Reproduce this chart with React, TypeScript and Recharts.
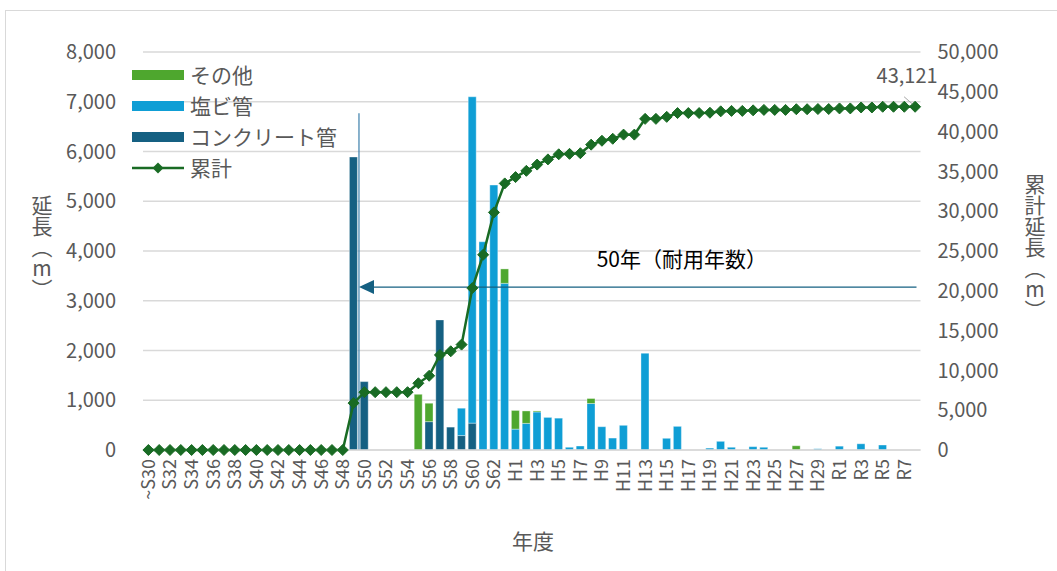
import React from 'react';
import {
  ComposedChart,
  Bar,
  Line,
  XAxis,
  YAxis,
  CartesianGrid,
  Legend,
  ReferenceLine,
  LabelList,
} from 'recharts';

const FONT = '"Noto Sans CJK JP", "Noto Sans", sans-serif';
const GREY = '#595959';

// 年度 (72 categories)
const categories = [
  '~S30', 'S31', 'S32', 'S33', 'S34', 'S35', 'S36', 'S37', 'S38', 'S39',
  'S40', 'S41', 'S42', 'S43', 'S44', 'S45', 'S46', 'S47', 'S48', 'S49',
  'S50', 'S51', 'S52', 'S53', 'S54', 'S55', 'S56', 'S57', 'S58', 'S59',
  'S60', 'S61', 'S62', 'S63',
  'H1', 'H2', 'H3', 'H4', 'H5', 'H6', 'H7', 'H8', 'H9', 'H10',
  'H11', 'H12', 'H13', 'H14', 'H15', 'H16', 'H17', 'H18', 'H19', 'H20',
  'H21', 'H22', 'H23', 'H24', 'H25', 'H26', 'H27', 'H28', 'H29', 'H30',
  'R1', 'R2', 'R3', 'R4', 'R5', 'R6', 'R7', 'R8',
];

// コンクリート管
const concrete = [
  0, 0, 0, 0, 0, 0, 0, 0, 0, 0,
  0, 0, 0, 0, 0, 0, 0, 0, 0, 5890,
  1375, 0, 0, 0, 0, 0, 570, 2615, 460, 290,
  540, 0, 0, 0,
  0, 0, 0, 0, 0, 0, 0, 0, 0, 0,
  0, 0, 0, 0, 0, 0, 0, 0, 0, 0,
  0, 0, 0, 0, 0, 0, 0, 0, 0, 0,
  0, 0, 0, 0, 0, 0, 0, 0,
];

// 塩ビ管
const pvc = [
  0, 0, 0, 0, 0, 0, 0, 0, 0, 0,
  0, 0, 0, 0, 0, 0, 0, 0, 0, 0,
  0, 0, 0, 0, 0, 0, 0, 0, 0, 550,
  6560, 4185, 5325, 3350,
  420, 535, 765, 655, 640, 55, 80, 935, 468, 240,
  496, 0, 1945, 0, 235, 475, 0, 0, 38, 174,
  55, 0, 67, 55, 0, 0, 0, 0, 25, 0,
  77, 0, 125, 0, 100, 0, 0, 0,
];

// その他
const other = [
  0, 0, 0, 0, 0, 0, 0, 0, 0, 0,
  0, 0, 0, 0, 0, 0, 0, 0, 0, 0,
  0, 0, 0, 0, 0, 1120, 370, 0, 0, 0,
  0, 0, 0, 290,
  375, 250, 20, 0, 0, 0, 0, 100, 0, 0,
  0, 0, 0, 0, 0, 0, 0, 0, 0, 0,
  0, 0, 0, 0, 0, 0, 85, 0, 0, 0,
  0, 0, 0, 0, 0, 0, 0, 0,
];

// 累計
const cumulative = [
  0, 0, 0, 0, 0, 0, 0, 0, 0, 0,
  0, 0, 0, 0, 0, 0, 0, 0, 0, 5890,
  7265, 7265, 7265, 7265, 7265, 8385, 9325, 11940, 12400, 13240,
  20340, 24525, 29850, 33490,
  34285, 35070, 35855, 36510, 37150, 37205, 37285, 38360, 38850, 39100,
  39620, 39620, 41600, 41600, 41850, 42330, 42330, 42330, 42370, 42545,
  42600, 42600, 42670, 42725, 42725, 42725, 42810, 42810, 42835, 42835,
  42910, 42910, 43030, 43030, 43121, 43121, 43121, 43121,
];

const leftTicks = [0, 1000, 2000, 3000, 4000, 5000, 6000, 7000, 8000];
const rightTicks = [0, 5000, 10000, 15000, 20000, 25000, 30000, 35000, 40000, 45000, 50000];

const NAMES = {
  other: 'その他',
  pvc: '塩ビ管',
  concrete: 'コンクリート管',
  cumulative: '累計',
};
const COLORS = {
  other: '#4EA72E',
  pvc: '#0F9ED5',
  concrete: '#156082',
  cumulative: '#196B24',
};

const lifeText = '50年（耐用年数）';
const lifeLineTop = 6770;
const lifeArrowY = 3275;
const lifeStart = 'S49';
const lifeEnd = 'R8';

const data = categories.map((year, i) => ({
  year,
  concrete: concrete[i],
  pvc: pvc[i],
  other: other[i],
  cumulative: cumulative[i],
}));

const fmt = (v: number) => Number(v).toLocaleString('en-US');

const Diamond = (props: any) => {
  const { cx, cy, index } = props;
  if (cx == null || cy == null) return <g key={`d-${index}`} />;
  const r = 5.5;
  return (
    <polygon
      key={`d-${index}`}
      points={`${cx},${cy - r} ${cx + r},${cy} ${cx},${cy + r} ${cx - r},${cy}`}
      fill={COLORS.cumulative}
      stroke={COLORS.cumulative}
      strokeWidth={1}
    />
  );
};

const XTick = (props: any) => {
  const { x, y, payload } = props;
  return (
    <g transform={`translate(${x},${y})`}>
      <text
        transform="rotate(-90)"
        textAnchor="end"
        dy="0.36em"
        fill={GREY}
        fontSize={18}
        fontFamily={FONT}
      >
        {payload.value}
      </text>
    </g>
  );
};

const LastLabel = (props: any) => {
  const { x, y, index, value } = props;
  if (index !== cumulative.length - 1) return null;
  return (
    <g>
      <line x1={x - 11} y1={y - 10} x2={x - 3} y2={y - 3} stroke="#a6a6a6" strokeWidth={1} />
      <text
        x={x - 8}
        y={y - 32}
        textAnchor="middle"
        dominantBaseline="central"
        fill={GREY}
        fontSize={20}
        fontFamily={FONT}
      >
        {fmt(value)}
      </text>
    </g>
  );
};

const ArrowShape = (props: any) => {
  const { x1, y1, x2, y2 } = props;
  const left = Math.min(x1, x2);
  const right = Math.max(x1, x2);
  const y = y1;
  return (
    <g>
      <line x1={left + 14} y1={y} x2={right - 4} y2={y2} stroke={COLORS.concrete} strokeWidth={1.3} />
      <polygon
        points={`${left},${y} ${left + 15},${y - 7} ${left + 15},${y + 7}`}
        fill={COLORS.concrete}
      />
      <text
        x={left + (right - left) * 0.575}
        y={y - 29}
        textAnchor="middle"
        dominantBaseline="central"
        fill="#000000"
        fontSize={21}
        fontFamily={FONT}
      >
        {lifeText}
      </text>
    </g>
  );
};

const legendOrder: Array<keyof typeof NAMES> = ['other', 'pvc', 'concrete', 'cumulative'];

const LegendContent = () => (
  <div style={{ fontFamily: FONT }}>
    {legendOrder.map((k) => (
      <div key={k} style={{ display: 'flex', alignItems: 'center', height: 31 }}>
        <svg width={53} height={14} style={{ display: 'block' }}>
          {k === 'cumulative' ? (
            <g>
              <line x1={0} y1={7} x2={52} y2={7} stroke={COLORS.cumulative} strokeWidth={2.5} />
              <polygon points="26,1.5 31.5,7 26,12.5 20.5,7" fill={COLORS.cumulative} />
            </g>
          ) : (
            <rect x={0} y={2} width={52} height={10} fill={COLORS[k]} />
          )}
        </svg>
        <span style={{ marginLeft: 5, fontSize: 21, color: GREY, lineHeight: '31px', whiteSpace: 'nowrap' }}>
          {NAMES[k]}
        </span>
      </div>
    ))}
  </div>
);

export default function App() {
  return (
    <div>
      <div
        style={{
          position: 'absolute',
          left: 5,
          top: 10,
          width: 1080,
          height: 600,
          border: '1px solid #d9d9d9',
          boxSizing: 'border-box',
          background: '#ffffff',
        }}
      />
      <div style={{ position: 'absolute', left: 5, top: 10 }}>
        <ComposedChart
          width={1052}
          height={561}
          data={data}
          margin={{ top: 42, right: 0, bottom: 31, left: 0 }}
          barCategoryGap="11.5%"
          style={{ fontFamily: FONT }}
        >
          <CartesianGrid yAxisId="left" vertical={false} stroke="#d9d9d9" strokeWidth={1.3} />
          <XAxis
            dataKey="year"
            interval={1}
            tickLine={false}
            tickSize={0}
            tickMargin={9}
            axisLine={{ stroke: '#d9d9d9', strokeWidth: 1.3 }}
            height={90}
            tick={<XTick />}
          />
          <YAxis
            yAxisId="left"
            domain={[0, 8000]}
            ticks={leftTicks}
            width={138}
            tickLine={false}
            axisLine={false}
            tickSize={0}
            tickMargin={27}
            tickFormatter={fmt}
            tick={{ fill: GREY, fontSize: 20, fontFamily: FONT }}
          />
          <YAxis
            yAxisId="right"
            orientation="right"
            domain={[0, 50000]}
            ticks={rightTicks}
            width={136.5}
            tickLine={false}
            axisLine={false}
            tickSize={0}
            tickMargin={17}
            tickFormatter={fmt}
            tick={{ fill: GREY, fontSize: 20, fontFamily: FONT, textAnchor: 'start' }}
          />
          <Legend
            layout="vertical"
            align="center"
            verticalAlign="middle"
            wrapperStyle={{ left: 127, top: 49, width: 260, height: 124 }}
            content={<LegendContent />}
          />
          <Bar
            yAxisId="left"
            dataKey="concrete"
            name={NAMES.concrete}
            stackId="a"
            fill={COLORS.concrete}
            stroke="rgba(255,255,255,0.45)"
            strokeWidth={0.8}
            isAnimationActive={false}
          />
          <Bar
            yAxisId="left"
            dataKey="pvc"
            name={NAMES.pvc}
            stackId="a"
            fill={COLORS.pvc}
            stroke="rgba(255,255,255,0.45)"
            strokeWidth={0.8}
            isAnimationActive={false}
          />
          <Bar
            yAxisId="left"
            dataKey="other"
            name={NAMES.other}
            stackId="a"
            fill={COLORS.other}
            stroke="rgba(255,255,255,0.45)"
            strokeWidth={0.8}
            isAnimationActive={false}
          />
          <ReferenceLine
            yAxisId="left"
            segment={[
              { x: lifeStart, y: lifeLineTop },
              { x: lifeStart, y: 0 },
            ]}
            position="end"
            stroke="#3b7fab"
            strokeWidth={1.2}
            ifOverflow="visible"
          />
          <ReferenceLine
            yAxisId="left"
            segment={[
              { x: lifeStart, y: lifeArrowY },
              { x: lifeEnd, y: lifeArrowY },
            ]}
            position="end"
            ifOverflow="visible"
            shape={ArrowShape}
          />
          <Line
            yAxisId="right"
            dataKey="cumulative"
            name={NAMES.cumulative}
            stroke={COLORS.cumulative}
            strokeWidth={2.5}
            dot={(p: any) => <Diamond {...p} />}
            activeDot={false}
            isAnimationActive={false}
          >
            <LabelList dataKey="cumulative" content={LastLabel} />
          </Line>
          <text
            x={37}
            y={237}
            textAnchor="middle"
            fill={GREY}
            fontSize={21}
            fontFamily={FONT}
            style={{ writingMode: 'vertical-rl', textOrientation: 'upright' } as any}
          >
            延長（m）
          </text>
          <text
            x={1030}
            y={237}
            textAnchor="middle"
            fill={GREY}
            fontSize={21}
            fontFamily={FONT}
            style={{ writingMode: 'vertical-rl', textOrientation: 'upright' } as any}
          >
            累計延長（m）
          </text>
          <text
            x={528}
            y={530}
            textAnchor="middle"
            dominantBaseline="central"
            fill={GREY}
            fontSize={21}
            fontFamily={FONT}
          >
            年度
          </text>
        </ComposedChart>
      </div>
    </div>
  );
}
